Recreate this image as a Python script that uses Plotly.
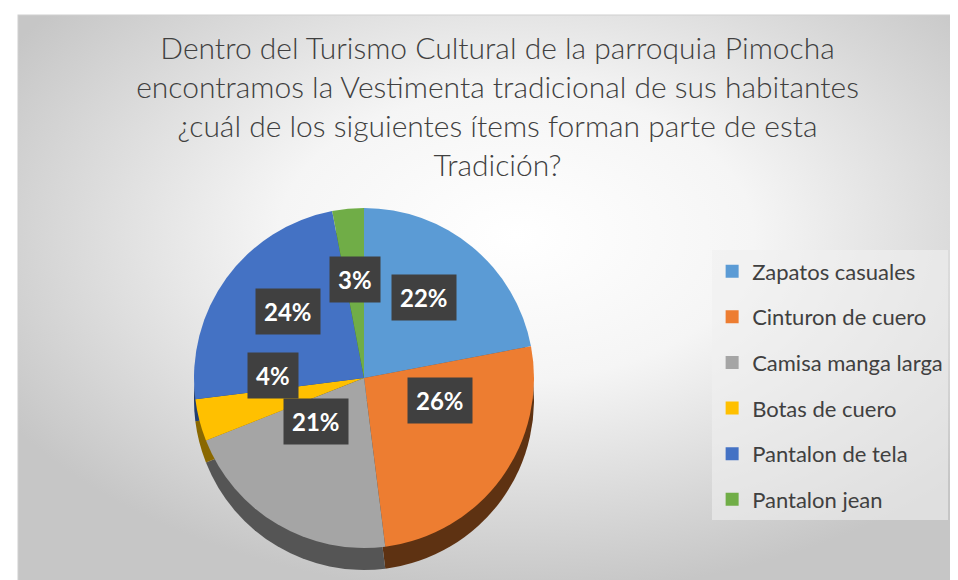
import math
import base64
import plotly.graph_objects as go

categories = ["Zapatos casuales", "Cinturon de cuero", "Camisa manga larga",
              "Botas de cuero", "Pantalon de tela", "Pantalon jean"]
values = [22, 26, 21, 4, 24, 3]
colors = ["#5B9BD5", "#ED7D31", "#A5A5A5", "#FFC000", "#4472C4", "#70AD47"]
side_colors = ["#2E5F8C", "#5E3212", "#555555", "#8A6800", "#223D6E", "#3C6026"]
title_text = ("Dentro del Turismo Cultural de la parroquia Pimocha<br>"
              "encontramos la Vestimenta tradicional de sus habitantes<br>"
              "¿cuál de los siguientes ítems forman parte de esta<br>"
              "Tradición?")

W, H = 958, 580
FONT = "Lato"

svg = f'''<svg xmlns="http://www.w3.org/2000/svg" width="{W}" height="{H}">
<defs><radialGradient id="g" cx="0.52" cy="0.38" r="0.62">
<stop offset="0" stop-color="#ffffff"/><stop offset="0.4" stop-color="#f5f5f5"/>
<stop offset="1" stop-color="#c6c6c6"/></radialGradient></defs>
<rect x="0" y="0" width="{W}" height="{H}" fill="#ffffff"/>
<rect x="10" y="7" width="{W}" height="{H}" fill="url(#g)" stroke="#d0d0d0" stroke-width="1"/>
</svg>'''
src = "data:image/svg+xml;base64," + base64.b64encode(svg.encode()).decode()

cx_px, cy_px, diam, depth = 356, 370, 340, 22


def dom(cy):
    return dict(x=[(cx_px - diam / 2) / W, (cx_px + diam / 2) / W],
                y=[1 - (cy + diam / 2) / H, 1 - (cy - diam / 2) / H])


fig = go.Figure()
# side (depth) of the pie
fig.add_trace(go.Pie(
    labels=categories, values=values, sort=False, direction="clockwise",
    rotation=0, marker=dict(colors=side_colors, line=dict(width=0)),
    textinfo="none", hoverinfo="skip", showlegend=False,
    domain=dom(cy_px + depth),
))
fig.add_trace(go.Pie(
    labels=categories, values=values, sort=False, direction="clockwise",
    rotation=0, marker=dict(colors=colors, line=dict(width=0)),
    textinfo="none", hoverinfo="label+percent", showlegend=False,
    domain=dom(cy_px),
))
# legend entries
for name, c in zip(categories, colors):
    fig.add_trace(go.Scatter(
        x=[None], y=[None], mode="markers", name=name, legendgroup=name,
        marker=dict(symbol="square", size=13, color=c),
    ))

total = sum(values)
annotations = []
cum = 0
rx = 0.55 * diam / 2
ry = 0.45 * diam / 2
for v in values:
    mid = (cum + v / 2) / total * 2 * math.pi
    cum += v
    px = cx_px + rx * math.sin(mid)
    py = cy_px - 22 - ry * math.cos(mid)
    annotations.append(dict(
        x=px / W, y=1 - py / H, xref="paper", yref="paper",
        xanchor="center", yanchor="middle",
        text=f"<b>{round(v / total * 100)}%</b>", showarrow=False,
        font=dict(family=FONT, size=24, color="white"),
        bgcolor="#404040", borderpad=8,
    ))

fig.update_layout(
    width=W, height=H,
    margin=dict(l=0, r=0, t=0, b=0),
    paper_bgcolor="white", plot_bgcolor="rgba(0,0,0,0)",
    xaxis=dict(visible=False), yaxis=dict(visible=False),
    images=[dict(source=src, xref="paper", yref="paper", x=0, y=1,
                 sizex=1, sizey=1, xanchor="left", yanchor="top",
                 sizing="stretch", layer="below")],
    title=dict(text=title_text, x=0.511, xanchor="center", y=0.912, yanchor="top",
               font=dict(family=FONT, size=30, color="#404040", weight=300)),
    legend=dict(x=0.735, y=0.582, xanchor="left", yanchor="top",
                font=dict(family=FONT, size=22, color="#404040"),
                bgcolor="rgba(240,240,240,0.6)", itemclick=False,
                tracegroupgap=14),
    annotations=annotations,
)

fig.write_html("out.html")
